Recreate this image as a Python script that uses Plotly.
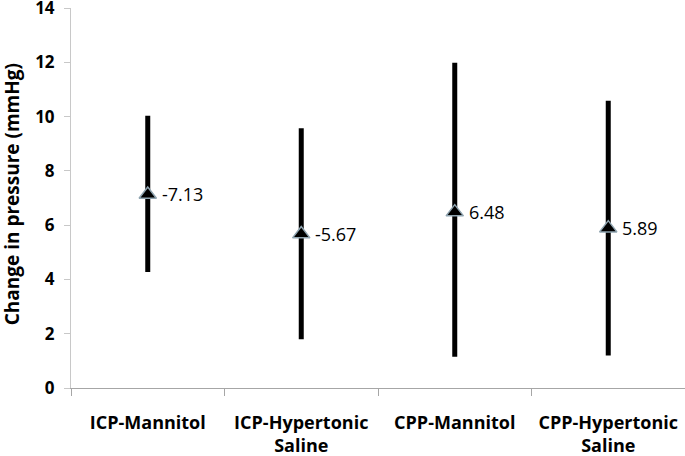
import plotly.graph_objects as go

categories = ["ICP-Mannitol", "ICP-Hypertonic<br>Saline", "CPP-Mannitol", "CPP-Hypertonic<br>Saline"]
plotted = [7.13, 5.67, 6.48, 5.89]
labels = ["-7.13", "-5.67", "6.48", "5.89"]
low = [4.27, 1.80, 1.15, 1.20]
high = [10.03, 9.57, 11.98, 10.58]

err_plus = [h - v for h, v in zip(high, plotted)]
err_minus = [v - l for l, v in zip(low, plotted)]

fig = go.Figure()

fig.add_trace(go.Scatter(
    x=categories, y=plotted,
    mode="markers",
    marker=dict(symbol="triangle-up", size=15, color="black",
                line=dict(color="#8fa4b0", width=1.5)),
    error_y=dict(type="data", symmetric=False, array=err_plus, arrayminus=err_minus,
                 width=0, thickness=5, color="black"),
    cliponaxis=False,
    showlegend=False,
))

# value labels to the right of each marker
for cat, val, lab in zip(categories, plotted, labels):
    fig.add_annotation(x=cat, y=val, text=lab, showarrow=False,
                       xanchor="left", yanchor="middle", xshift=12,
                       font=dict(family="Open Sans", size=18, color="black"))

# y axis title as annotation so it sits where the reference has it
fig.add_annotation(xref="paper", yref="paper", x=-0.096, y=0.51,
                   text="Change in pressure (mmHg)", textangle=-90, showarrow=False,
                   xanchor="center", yanchor="middle",
                   font=dict(family="Open Sans", size=19, color="black", weight="bold"))

fig.update_layout(
    width=685, height=456,
    margin=dict(l=71, r=0, t=8, b=68),
    plot_bgcolor="white", paper_bgcolor="white",
    font=dict(family="Open Sans", color="black"),
)

fig.update_xaxes(
    type="category", range=[-0.5, 3.5], tickson="boundaries", automargin=False,
    showline=True, linecolor="#a6a6a6", linewidth=1,
    ticks="outside", ticklen=7, tickcolor="#a6a6a6",
    ticklabelstandoff=18,
    tickfont=dict(family="Open Sans", size=18, color="black", weight="bold"),
    showgrid=False, zeroline=False,
)
fig.update_yaxes(
    range=[0, 14], dtick=2, automargin=False, ticklabeloverflow="allow",
    showline=True, linecolor="#c8c8c8", linewidth=1,
    ticks="outside", ticklen=6, tickcolor="#c8c8c8",
    ticklabelstandoff=6,
    tickfont=dict(family="Open Sans", size=17, color="black", weight="bold"),
    showgrid=False, zeroline=False,
)

# drop the browser's default 8px body margin so the figure fills the window
fig.write_html("out.html", config={"displayModeBar": False},
               post_script="document.body.style.margin='0';")
